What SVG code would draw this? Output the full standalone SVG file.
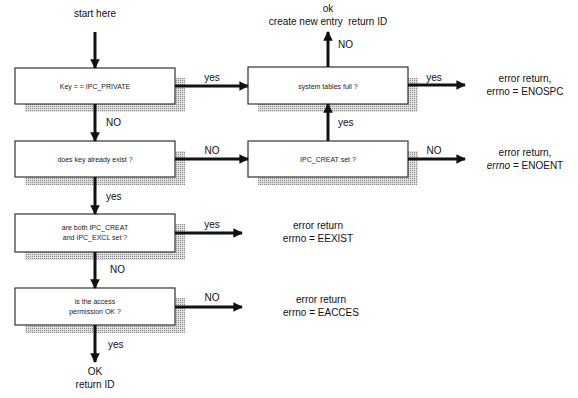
<svg xmlns="http://www.w3.org/2000/svg" width="578" height="398" viewBox="0 0 578 398">
<defs>
<pattern id="dots" width="2" height="2" patternUnits="userSpaceOnUse">
<rect width="2" height="2" fill="#e0e0e0"/>
<rect width="1" height="1" fill="#8a8a8a"/>
</pattern>
<marker id="ah" viewBox="0 0 10 10" refX="9" refY="5" markerWidth="3.2" markerHeight="3.2" orient="auto" markerUnits="strokeWidth">
<path d="M0,0 L10,5 L0,10 z" fill="#111"/>
</marker>
</defs>
<style>
.shadow{fill:url(#dots)}
.box{fill:#fff;stroke:#333;stroke-width:1.2}
.bt{font-family:"Liberation Sans",Arial,sans-serif;font-size:7px;fill:#222;text-anchor:middle}
.lbl{font-family:"Liberation Sans",Arial,sans-serif;font-size:10px;fill:#111;text-anchor:middle}
.lbl2{font-family:"Liberation Sans",Arial,sans-serif;font-size:10px;fill:#111;text-anchor:start}
.c{stroke:#111;stroke-width:3;fill:none;marker-end:url(#ah)}
</style>
<rect width="578" height="398" fill="#fff"/>

<g id="n1">
<path class="shadow" d="M175,78 H185 V112 H25 V104 H175 Z"/>
<rect class="box" x="15" y="68" width="160" height="36"/>
<text class="bt" x="95" y="89">Key = = IPC_PRIVATE</text>
</g>
<g id="n2">
<path class="shadow" d="M175,151 H185 V185 H25 V177 H175 Z"/>
<rect class="box" x="15" y="141" width="160" height="36"/>
<text class="bt" x="95" y="162">does key already exist ?</text>
</g>
<g id="n3">
<path class="shadow" d="M175,224 H185 V260 H25 V252 H175 Z"/>
<rect class="box" x="15" y="214" width="160" height="38"/>
<text class="bt" x="95" y="230">are both IPC_CREAT</text>
<text class="bt" x="95" y="240">and IPC_EXCL set ?</text>
</g>
<g id="n4">
<path class="shadow" d="M175,298 H185 V333 H25 V325 H175 Z"/>
<rect class="box" x="15" y="288" width="160" height="37"/>
<text class="bt" x="95" y="304">is the access</text>
<text class="bt" x="95" y="314">permission OK ?</text>
</g>
<g id="n5">
<path class="shadow" d="M408,78 H418 V112 H258 V104 H408 Z"/>
<rect class="box" x="248" y="67" width="160" height="37"/>
<text class="bt" x="328" y="89">system tables full ?</text>
</g>
<g id="n6">
<path class="shadow" d="M408,151 H418 V185 H258 V177 H408 Z"/>
<rect class="box" x="248" y="141" width="160" height="36"/>
<text class="bt" x="328" y="162">IPC_CREAT set ?</text>
</g>

<g id="texts">
<text class="lbl" x="95" y="17">start here</text>
<text class="lbl" x="328" y="12">ok</text>
<text class="lbl" x="328" y="25">create new entry&#160; return ID</text>
<text class="lbl" x="525" y="82">error return,</text>
<text class="lbl" x="525" y="95">errno = ENOSPC</text>
<text class="lbl" x="525" y="156">error return,</text>
<text class="lbl" x="525" y="169"><tspan font-style="italic">errno</tspan> = ENOENT</text>
<text class="lbl" x="318" y="229">error return</text>
<text class="lbl" x="318" y="242">errno = EEXIST</text>
<text class="lbl" x="321" y="303">error return</text>
<text class="lbl" x="321" y="316">errno = EACCES</text>
<text class="lbl" x="95" y="375">OK</text>
<text class="lbl" x="95" y="388">return ID</text>
</g>

<g id="connectors">
<line class="c" x1="95" y1="32" x2="95" y2="68"/>
<line class="c" x1="95" y1="104" x2="95" y2="141"/>
<line class="c" x1="95" y1="177" x2="95" y2="214"/>
<line class="c" x1="95" y1="252" x2="95" y2="288"/>
<line class="c" x1="95" y1="325" x2="95" y2="362"/>
<line class="c" x1="175" y1="86" x2="248" y2="86"/>
<line class="c" x1="175" y1="159" x2="248" y2="159"/>
<line class="c" x1="175" y1="233" x2="242" y2="233"/>
<line class="c" x1="175" y1="307" x2="242" y2="307"/>
<line class="c" x1="328" y1="67" x2="328" y2="32"/>
<line class="c" x1="328" y1="141" x2="328" y2="104"/>
<line class="c" x1="408" y1="85" x2="465" y2="85"/>
<line class="c" x1="408" y1="159" x2="465" y2="159"/>
<text class="lbl" x="212" y="81">yes</text>
<text class="lbl" x="212" y="154">NO</text>
<text class="lbl" x="212" y="228">yes</text>
<text class="lbl" x="212" y="301">NO</text>
<text class="lbl2" x="106" y="126">NO</text>
<text class="lbl2" x="106" y="200">yes</text>
<text class="lbl2" x="110" y="273">NO</text>
<text class="lbl2" x="108" y="348">yes</text>
<text class="lbl2" x="338" y="48">NO</text>
<text class="lbl2" x="338" y="126">yes</text>
<text class="lbl" x="434" y="81">yes</text>
<text class="lbl" x="434" y="154">NO</text>
</g>
</svg>
